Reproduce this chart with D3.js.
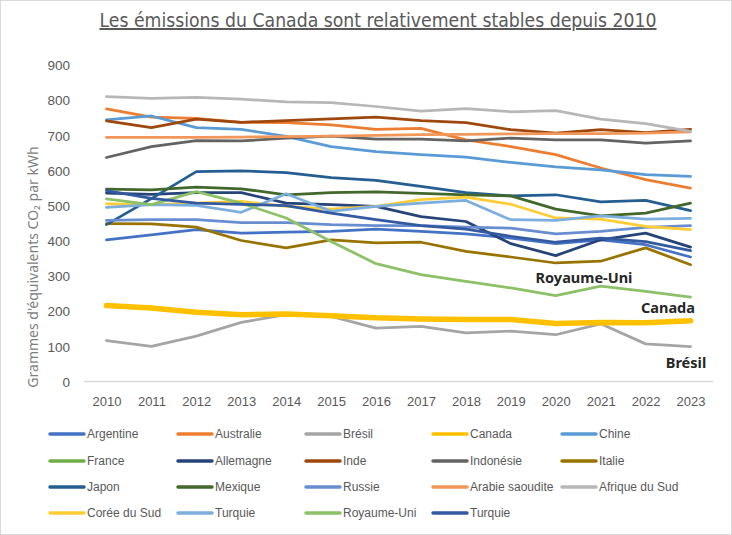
<!DOCTYPE html>
<html><head><meta charset="utf-8">
<script src="https://cdn.jsdelivr.net/npm/d3@7"></script>
<style>
html,body{margin:0;padding:0;background:#fff;}
svg text{font-family:"Noto Sans","Open Sans",sans-serif;}
</style></head>
<body><svg id="c" width="732" height="535"></svg>
<script>
const years = [2010,2011,2012,2013,2014,2015,2016,2017,2018,2019,2020,2021,2022,2023];
const yTicks = [0,100,200,300,400,500,600,700,800,900];

const argentine  = [403,417,432,422,425,427,433,427,420,408,392,403,389,354];
const australie  = [775,752,748,737,736,730,717,720,687,668,645,607,574,550];
const bresil     = [116,100,129,168,190,185,152,157,138,143,133,164,107,99];
const canada     = [216,209,197,190,192,187,181,178,176,176,165,168,167,173];
const chine      = [744,755,722,717,697,668,654,645,638,623,610,602,588,583];
const france     = [null,null,null,null,null,null,null,null,null,null,null,null,null,null];
const allemagne  = [536,532,537,537,507,503,498,469,455,392,358,403,422,382];
const inde       = [741,722,746,737,742,747,752,742,736,716,706,716,708,717];
const indonesie  = [637,668,685,684,692,698,689,689,684,692,687,687,678,684];
const italie     = [449,448,439,401,380,403,394,396,370,354,337,342,380,332];
const japon      = [446,520,597,599,594,580,572,555,537,528,531,511,515,486];
const mexique    = [547,545,553,548,531,537,539,535,531,528,490,471,479,507];
const russie     = [458,460,460,452,452,446,443,443,439,436,420,427,438,443];
const arabie     = [694,694,694,695,696,698,700,702,703,704,705,705,706,710];
const afrique    = [810,805,808,803,795,793,782,769,776,767,770,746,733,711];
const coree      = [505,503,507,512,498,490,498,517,524,504,465,462,441,432];
const turquie    = [495,503,501,481,534,484,498,507,515,460,458,471,462,464];
const royaumeUni = [519,503,540,507,465,398,335,304,285,266,244,271,256,240];
const turquie2   = [543,521,507,504,500,479,460,443,433,413,396,408,398,372];

const names = ["Argentine","Australie","Brésil","Canada","Chine","France","Allemagne","Inde","Indonésie","Italie","Japon","Mexique","Russie","Arabie saoudite","Afrique du Sud","Corée du Sud","Turquie","Royaume-Uni","Turquie"];
const values = [argentine,australie,bresil,canada,chine,france,allemagne,inde,indonesie,italie,japon,mexique,russie,arabie,afrique,coree,turquie,royaumeUni,turquie2];
const colors = ["#4472C4","#ED7D31","#A5A5A5","#FFC000","#5B9BD5","#70AD47","#264478","#9E480E","#636363","#997300","#255E91","#43682B","#698ED0","#F1975A","#B7B7B7","#FFCD33","#7CAFDD","#8CC168","#335AA1"];
const callouts = ["Royaume-Uni","Canada","Brésil"];

const svg = d3.select("#c");
svg.append("rect").attr("x",0.5).attr("y",0.5).attr("width",731).attr("height",534)
  .attr("fill","#fff").attr("stroke","#D9D9D9");

// title
svg.append("text").attr("x",378).attr("y",27).attr("text-anchor","middle")
  .attr("fill","#595959").style("font-family","'Liberation Sans Narrow','DejaVu Sans Condensed','Noto Sans',sans-serif")
  .style("font-size","20px").style("text-decoration","underline")
  .attr("textLength",557).attr("lengthAdjust","spacingAndGlyphs")
  .text("Les émissions du Canada sont relativement stables depuis 2010");

const x = d3.scalePoint().domain(years).range([84,713]).padding(0.5);
const y = d3.scaleLinear().domain([0,900]).range([381.5,65]);

// y axis labels
const yAxis = d3.axisLeft(y).tickValues(yTicks).tickSize(0).tickPadding(0);
const gy = svg.append("g").attr("transform","translate(70,0)").call(yAxis);
gy.select(".domain").remove();
gy.selectAll("text").attr("fill","#595959").style("font-family","'Liberation Sans',Arial,sans-serif").style("font-size","13.5px").attr("dy","0.35em");

// x axis
const xAxis = d3.axisBottom(x).tickSize(0).tickPadding(15);
const gx = svg.append("g").attr("transform","translate(0,381.5)").call(xAxis);
gx.select(".domain").attr("stroke","#D9D9D9").attr("stroke-width",1.3).attr("d","M84,0H713");
gx.selectAll("text").attr("fill","#595959").style("font-family","'Liberation Sans',Arial,sans-serif").style("font-size","13px");

// y title
svg.append("text").attr("transform","translate(38,267) rotate(-90)").attr("text-anchor","middle")
  .attr("fill","#7F7F7F").style("font-size","14px")
  .text("Grammes d'équivalents CO₂ par kWh");

// lines
const line = d3.line().defined(d=>d.v!=null).x(d=>x(d.year)).y(d=>y(d.v));
const g = svg.append("g");
values.forEach((arr,i)=>{
  const pts = years.map((yr,k)=>({year:yr,v:arr[k]}));
  g.append("path").attr("d",line(pts)).attr("fill","none")
   .attr("stroke",colors[i]).attr("stroke-width",names[i]==="Canada"?5.5:2.75)
   .attr("stroke-linejoin","round").attr("stroke-linecap","round");
});

// callout labels
const lab = [{t:callouts[0],x:584,y:283},{t:callouts[1],x:668,y:313},{t:callouts[2],x:686,y:368}];
svg.selectAll(".callout").data(lab).enter().append("text")
  .attr("x",d=>d.x).attr("y",d=>d.y).attr("text-anchor","middle")
  .attr("fill","#262626").style("font-weight","bold").style("font-size","14.5px").text(d=>d.t);

// legend
const colX = [50,178,306,433,562];
const rowY = [434,461,487,513];
const leg = svg.append("g");
names.forEach((n,i)=>{
  const cx = colX[i%5], cy = rowY[Math.floor(i/5)];
  leg.append("line").attr("x1",cx).attr("x2",cx+34).attr("y1",cy).attr("y2",cy)
    .attr("stroke",colors[i]).attr("stroke-width",3.5).attr("stroke-linecap","round");
  leg.append("text").attr("x",cx+37).attr("y",cy).attr("dy","0.35em")
    .attr("fill","#595959").style("font-family","'Liberation Sans',Arial,sans-serif").style("font-size","12px").text(n);
});
</script></body></html>
